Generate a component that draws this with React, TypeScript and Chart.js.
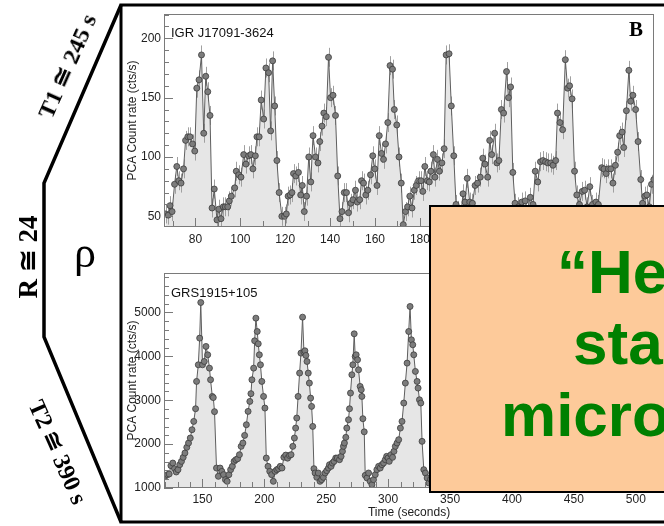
import React, { useEffect, useRef } from "react";
import { Chart, registerables } from "chart.js";

Chart.register(...registerables);

// ---------- data: IGR J17091-3624 (top panel) ----------
const igrTime = [
  66.7, 67.9, 68.7, 69.6, 70.7, 71.7, 72.6, 73.6, 74.7, 75.6, 76.6, 77.6, 78.7, 79.7, 80.6, 81.6, 82.7, 83.7, 84.6, 85.5,
  86.5, 87.4, 88.4, 89.6, 90.4, 91.4, 92.4, 93.3, 94.4, 95.1, 96, 97.5, 98.2, 99.3, 100.3, 101.5, 102.5, 103.7, 104.7, 105.6,
  106.7, 107.4, 108.4, 109.3, 110.4, 111.4, 112.6, 113.5, 114.4, 115.3, 116.3, 117.3, 118.5, 119.7, 120.5, 121.3, 122.2, 123, 123.7, 124.7,
  125.9, 126.9, 127.6, 128.5, 129.5, 130.5, 131.4, 132.4, 133.5, 134.6, 135.4, 136.4, 137.2, 138.3, 139.3, 140.2, 141.3, 142.4, 143.4, 144.4,
  145.3, 146.3, 147.3, 148.2, 149.2, 150.2, 151.3, 152.1, 153.2, 154, 154.9, 155.9, 156.8, 158, 159, 159.9, 160.9, 161.9, 162.9, 163.8,
  164.7, 165.7, 166.7, 167.8, 168.6, 169.7, 170.7, 171.7, 172.6, 173.6, 174.5, 175.5, 176.5, 177.5, 178.4, 179.4, 180.5, 181.3, 182.2, 183.3,
  184.2, 184.9, 186, 186.7, 187.8, 188.7, 189.8, 190.8, 191.7, 193, 194, 195.1, 196.1, 197.1, 198.2, 199.2, 200.1, 201.1, 202.2, 203.4,
  204.6, 205.7, 206.9, 208, 209, 210.2, 211.1, 212, 213.3, 214.3, 215.2, 216.3, 217.3, 218.6, 219.5, 220.4, 221.4, 222.4, 223.2, 223.9,
  225.4, 226.9, 228, 229.2, 230.4, 231.4, 232.5, 233.7, 234.8, 236, 237, 238.3, 239.3, 240.5, 241.3, 242.4, 243.6, 244.8, 245.8, 246.7,
  247.8, 248.9, 249.9, 251.1, 252.3, 253.4, 254.5, 255.7, 256.9, 258.4, 259.5, 261, 262, 263, 264, 265.1, 266, 267.1, 268.1, 269,
  270.1, 270.8, 272, 273.1, 273.9, 274.9, 276.1, 277.2, 278.4, 279.2, 280.2, 281.1, 282.2, 283.2, 284.2,
];
const igrRate = [
  52, 51, 59, 54, 77, 92, 80, 78, 90, 114, 117, 117, 111, 105, 158, 165, 186, 120, 168, 155,
  135, 57, 73, 47, 56, 48, 58, 58, 58, 63, 67, 74, 88, 85, 83, 102, 94, 101, 102, 90,
  101, 117, 117, 148, 132, 175, 171, 122, 181, 143, 97, 70, 50, 50, 52, 67, 68, 70, 86, 84,
  87, 68, 76, 54, 67, 100, 79, 118, 100, 95, 113, 126, 137, 134, 184, 150, 152, 135, 84, 48,
  54, 70, 70, 53, 61, 64, 72, 62, 64, 80, 78, 68, 72, 85, 101, 90, 76, 118, 103, 98,
  111, 129, 177, 174, 140, 127, 100, 78, 43, 54, 58, 67, 57, 72, 76, 80, 80, 71, 92, 80,
  79, 88, 102, 83, 98, 88, 95, 107, 186, 187, 143, 101, 60, 55, 50, 69, 62, 82, 62, 61,
  76, 78, 83, 99, 94, 83, 114, 102, 120, 95, 97, 140, 137, 172, 150, 159, 87, 61, 52, 58,
  62, 63, 56, 66, 60, 88, 79, 96, 97, 96, 95, 95, 93, 97, 137, 129, 123, 182, 158, 160,
  149, 88, 68, 60, 71, 72, 58, 75, 60, 62, 60, 91, 90, 86, 90, 90, 78, 93, 104, 118,
  121, 108, 139, 173, 147, 152, 140, 113, 81, 61, 67, 68, 58, 77, 81,
];
const IGR_ERR = 8;

// ---------- data: GRS1915+105 (bottom panel) ----------
const grsTime = [
  119.8, 121.8, 123.2, 124.6, 126.1, 127.5, 128.9, 130.3, 131.7, 133.1, 134.5, 135.9, 137.4, 138.8, 140.2, 141.6, 143, 144.5, 145.3, 146.7,
  147.8, 148.7, 150.1, 151.5, 152.9, 154.3, 155.7, 156.6, 158, 158.8, 159.8, 161.4, 162.9, 164.3, 165.7, 167.1, 168.6, 170, 171.4, 172.8,
  174.2, 175.6, 177, 178.5, 179.9, 181.3, 182.7, 184.1, 185.5, 186.9, 188.3, 189.2, 190, 191.4, 192.2, 193.2, 194.3, 195.1, 196, 196.9,
  198, 199.4, 200.5, 201.6, 203, 204.4, 205.9, 207.3, 208.7, 210.1, 211.5, 212.9, 214.3, 215.8, 217.3, 218.8, 220.3, 221.6, 223, 224.3,
  225.3, 226.2, 227.3, 228.5, 229.6, 230.9, 232, 232.8, 233.6, 234.5, 235.5, 236.4, 237.4, 238.2, 239.1, 240.1, 241, 242.4, 243.6, 245,
  246.3, 247.7, 249.1, 250.4, 251.8, 252.6, 253.9, 255, 256.3, 257.7, 259, 260.7, 262, 263.1, 263.9, 264.7, 265.8, 266.6, 268, 268.8,
  269.6, 270.7, 271.5, 272.6, 273.4, 274.2, 275.3, 276.1, 277.4, 278.3, 278.8, 279.6, 280.7, 281.5, 282.9, 284.2, 285.5, 286.9, 288.2, 289.6,
  290.9, 292.3, 293.6, 295, 296.3, 297.7, 298.8, 299.9, 300.9, 302.3, 303.6, 304.7, 305.8, 307.2, 308.5, 309.9, 311.2, 312.6, 313.9, 315.3,
  316.6, 317.7, 318.8, 319.9, 320.7, 322, 323.4, 324.2, 325.3, 326.4, 327.4, 328.8, 330.1, 331.5, 332.9, 334.3, 335.7, 337.1,
];
const grsRate = [
  1266, 1304, 1319, 1509, 1569, 1440, 1365, 1418, 1531, 1607, 1698, 1797, 1926, 2025, 2139, 2328, 2518, 2806, 3429, 3808,
  4416, 5228, 3808, 3884, 4226, 4036, 3732, 3467, 3087, 3060, 2740, 1455, 1266, 1455, 1379, 1304, 1190, 1152, 1304, 1418,
  1493, 1607, 1645, 1668, 1759, 1949, 2025, 2199, 2442, 2746, 2973, 3150, 3467, 3732, 4355, 4871, 4567, 4287, 4036, 3808,
  3429, 3087, 2822, 1683, 1493, 1379, 1304, 1152, 1379, 1418, 1440, 1493, 1455, 1700, 1750, 1680, 1740, 1759, 1949, 2139,
  2366, 2594, 3087, 3619, 4074, 4894, 4097, 4127, 4021, 3884, 3619, 3391, 3049, 2860, 2404, 1440, 1342, 1243, 1342, 1152,
  1190, 1243, 1342, 1395, 1455, 1531, 1493, 1569, 1607, 1683, 1683, 1645, 1721, 1835, 1949, 2025, 2154, 2366, 2556, 2806,
  3163, 3581, 3808, 4514, 3998, 4036, 3922, 3694, 3315, 3239, 3087, 2579, 2280, 1288, 1228, 1342, 1152, 1076, 1190, 1304,
  1418, 1493, 1455, 1531, 1569, 1645, 1721, 1683, 1607, 1759, 1698, 1835, 1949, 2025, 2101, 2366, 2518, 2936, 3391, 3846,
  4567, 5137, 4378, 4264, 4036, 3657, 3429, 3277, 3011, 2936, 2063, 1418, 1342, 1228, 1114, 1200, 1250, 1300,
];

const SANS = "'Liberation Sans', Arial, sans-serif";
const SERIF = "'Liberation Serif', 'Times New Roman', 'DejaVu Serif', serif";

const framePlugin = {
  id: "frame",
  afterDraw(chart: any, _args: any, opts: any) {
    const { ctx, chartArea: a } = chart;
    const x = chart.scales.x;
    const y = chart.scales.y;
    ctx.save();
    ctx.strokeStyle = "#7a7a7a";
    ctx.lineWidth = 1;
    ctx.strokeRect(a.left + 0.5, a.top + 0.5, a.right - a.left - 1, a.bottom - a.top - 1);
    ctx.beginPath();
    x.ticks.forEach((t: any) => {
      const px = Math.round(x.getPixelForValue(t.value)) + 0.5;
      const len = Math.abs(t.value % opts.xMajor) < 1e-6 ? 9 : 6;
      ctx.moveTo(px, a.bottom);
      ctx.lineTo(px, a.bottom - len);
    });
    y.ticks.forEach((t: any) => {
      const py = Math.round(y.getPixelForValue(t.value)) + 0.5;
      const len = Math.abs(t.value % opts.yMajor) < 1e-6 ? 9 : 5;
      ctx.moveTo(a.left, py);
      ctx.lineTo(a.left + len, py);
    });
    ctx.stroke();
    ctx.restore();
  },
};

const errPlugin = {
  id: "errbars",
  beforeDatasetDraw(chart: any, _args: any, opts: any) {
    if (!opts || !opts.err) return;
    const { ctx, chartArea: a } = chart;
    const x = chart.scales.x;
    const y = chart.scales.y;
    const data = chart.data.datasets[0].data;
    ctx.save();
    ctx.beginPath();
    ctx.rect(a.left, a.top, a.right - a.left, a.bottom - a.top);
    ctx.clip();
    ctx.strokeStyle = "#a0a0a0";
    ctx.lineWidth = 1;
    ctx.beginPath();
    data.forEach((p: any) => {
      const px = Math.round(x.getPixelForValue(p.x)) + 0.5;
      ctx.moveTo(px, y.getPixelForValue(p.y - opts.err));
      ctx.lineTo(px, y.getPixelForValue(p.y + opts.err));
    });
    ctx.stroke();
    ctx.restore();
  },
};

function makeConfig(opt: any): any {
  return {
    type: "line",
    data: {
      datasets: [
        {
          data: opt.times.map((t: number, i: number) => ({ x: t, y: opt.values[i] })),
          borderColor: "#5e5e5e",
          borderWidth: 1,
          tension: 0,
          fill: "start",
          backgroundColor: "#e6e6e6",
          pointRadius: 3,
          pointBackgroundColor: "#7c7c7c",
          pointBorderColor: "#3c3c3c",
          pointBorderWidth: 0.8,
        },
      ],
    },
    options: {
      responsive: false,
      animation: false,
      devicePixelRatio: 1,
      layout: { padding: opt.padding },
      plugins: {
        legend: { display: false },
        tooltip: { enabled: false },
        frame: { xMajor: opt.xMajor, yMajor: opt.yMajor },
        errbars: { err: opt.err },
      },
      scales: {
        x: {
          type: "linear",
          min: opt.xMin,
          max: opt.xMax,
          grid: { display: false, drawTicks: false },
          border: { display: false },
          title: opt.xTitle
            ? { display: true, text: opt.xTitle, color: "#222", font: { family: SANS, size: 12 }, padding: { top: 0, bottom: 6 } }
            : { display: false },
          ticks: {
            stepSize: opt.xStep,
            includeBounds: false,
            autoSkip: false,
            maxRotation: 0,
            padding: opt.xPad,
            color: "#222",
            font: { family: SANS, size: 12 },
            callback: (v: number) => (Math.abs(v % opt.xMajor) < 1e-6 ? String(v) : ""),
          },
          afterFit: (s: any) => {
            s.height = opt.xHeight;
          },
        },
        y: {
          min: opt.yMin,
          max: opt.yMax,
          grid: { display: false, drawTicks: false },
          border: { display: false },
          title: { display: true, text: "PCA Count rate (cts/s)", color: "#222", font: { family: SANS, size: 12 }, padding: { top: 1, bottom: 0 } },
          ticks: {
            stepSize: opt.yStep,
            includeBounds: false,
            autoSkip: false,
            padding: 3,
            color: "#222",
            font: { family: SANS, size: 12 },
            callback: (v: number) => (Math.abs(v % opt.yMajor) < 1e-6 ? String(v) : ""),
          },
          afterFit: (s: any) => {
            s.width = 40;
          },
        },
      },
    },
    plugins: [framePlugin, errPlugin],
  };
}

function Panel(props: { cfg: any; left: number; top: number; width: number; height: number }) {
  const ref = useRef<HTMLCanvasElement | null>(null);
  useEffect(() => {
    if (!ref.current) return;
    const chart = new Chart(ref.current, props.cfg);
    return () => chart.destroy();
  }, []);
  return (
    <canvas
      ref={ref}
      width={props.width}
      height={props.height}
      style={{ position: "absolute", left: props.left, top: props.top, width: props.width, height: props.height }}
    />
  );
}

const topCfg = makeConfig({
  times: igrTime,
  values: igrRate,
  xMin: 66,
  xMax: 284.3,
  xStep: 10,
  xMajor: 20,
  yMin: 41,
  yMax: 220.5,
  yStep: 10,
  yMajor: 50,
  err: IGR_ERR,
  padding: { top: 14, right: 10, left: 0, bottom: 0 },
  xHeight: 31,
  xPad: 5,
});

const bottomCfg = makeConfig({
  times: grsTime,
  values: grsRate,
  xMin: 119,
  xMax: 514.7,
  xStep: 10,
  xMajor: 50,
  yMin: 1000,
  yMax: 5900,
  yStep: 200,
  yMajor: 1000,
  err: 0,
  padding: { top: 15, right: 10, left: 0, bottom: 0 },
  xHeight: 38,
  xPad: 4,
  xTitle: "Time (seconds)",
});

const greenText: React.CSSProperties = {
  position: "absolute",
  fontFamily: SANS,
  fontWeight: "bold",
  fontSize: 62,
  lineHeight: "62px",
  color: "#008000",
  whiteSpace: "nowrap",
};

export default function App() {
  useEffect(() => {
    document.body.style.margin = "0";
  }, []);
  return (
    <div style={{ position: "fixed", left: 0, top: 0, width: 664, height: 526, overflow: "hidden", background: "#fff" }}>
      <Panel cfg={topCfg} left={124} top={0} width={540} height={258} />
      <Panel cfg={bottomCfg} left={124} top={258} width={540} height={268} />

      <div style={{ position: "absolute", left: 171, top: 25, fontFamily: SANS, fontSize: 13, lineHeight: "16px", color: "#111", whiteSpace: "nowrap" }}>
        IGR J17091-3624
      </div>
      <div style={{ position: "absolute", left: 171, top: 285, fontFamily: SANS, fontSize: 13, lineHeight: "15px", color: "#111", whiteSpace: "nowrap" }}>
        GRS1915+105
      </div>
      <div style={{ position: "absolute", left: 629, top: 19, fontFamily: SERIF, fontWeight: "bold", fontSize: 21, lineHeight: "21px", color: "#000" }}>
        B
      </div>

      <div
        style={{
          position: "absolute",
          left: 429,
          top: 205,
          width: 300,
          height: 288,
          boxSizing: "border-box",
          border: "2px solid #000",
          background: "#fdca9a",
        }}
      />
      <div style={{ ...greenText, left: 557, top: 241 }}>“He</div>
      <div style={{ ...greenText, left: 573, top: 312 }}>sta</div>
      <div style={{ ...greenText, left: 501, top: 384 }}>micro</div>

      <svg width={664} height={526} style={{ position: "absolute", left: 0, top: 0, pointerEvents: "none" }}>
        <polyline points="121,5 44,183 44,337 121,522" fill="none" stroke="#000" strokeWidth={3.5} strokeLinejoin="miter" />
        <polyline points="664,5 121,5 121,522 664,522" fill="none" stroke="#000" strokeWidth={3} />
        <text
          transform="translate(67,66) rotate(-66)"
          textAnchor="middle"
          dominantBaseline="central"
          fontFamily={SERIF}
          fontWeight="bold"
          fontSize={24}
          fill="#000"
        >
          T1 ≅ 245 s
        </text>
        <text
          transform="translate(28,257) rotate(-90)"
          textAnchor="middle"
          dominantBaseline="central"
          fontFamily={SERIF}
          fontWeight="bold"
          fontSize={27}
          fill="#000"
        >
          R ≅ 24
        </text>
        <text x={85} y={252} textAnchor="middle" dominantBaseline="central" fontFamily={SERIF} fontSize={44} fill="#000">
          ρ
        </text>
        <text
          transform="translate(58,452) rotate(66)"
          textAnchor="middle"
          dominantBaseline="central"
          fontFamily={SERIF}
          fontWeight="bold"
          fontSize={24}
          fill="#000"
        >
          T2 ≅ 390 s
        </text>
      </svg>
    </div>
  );
}
